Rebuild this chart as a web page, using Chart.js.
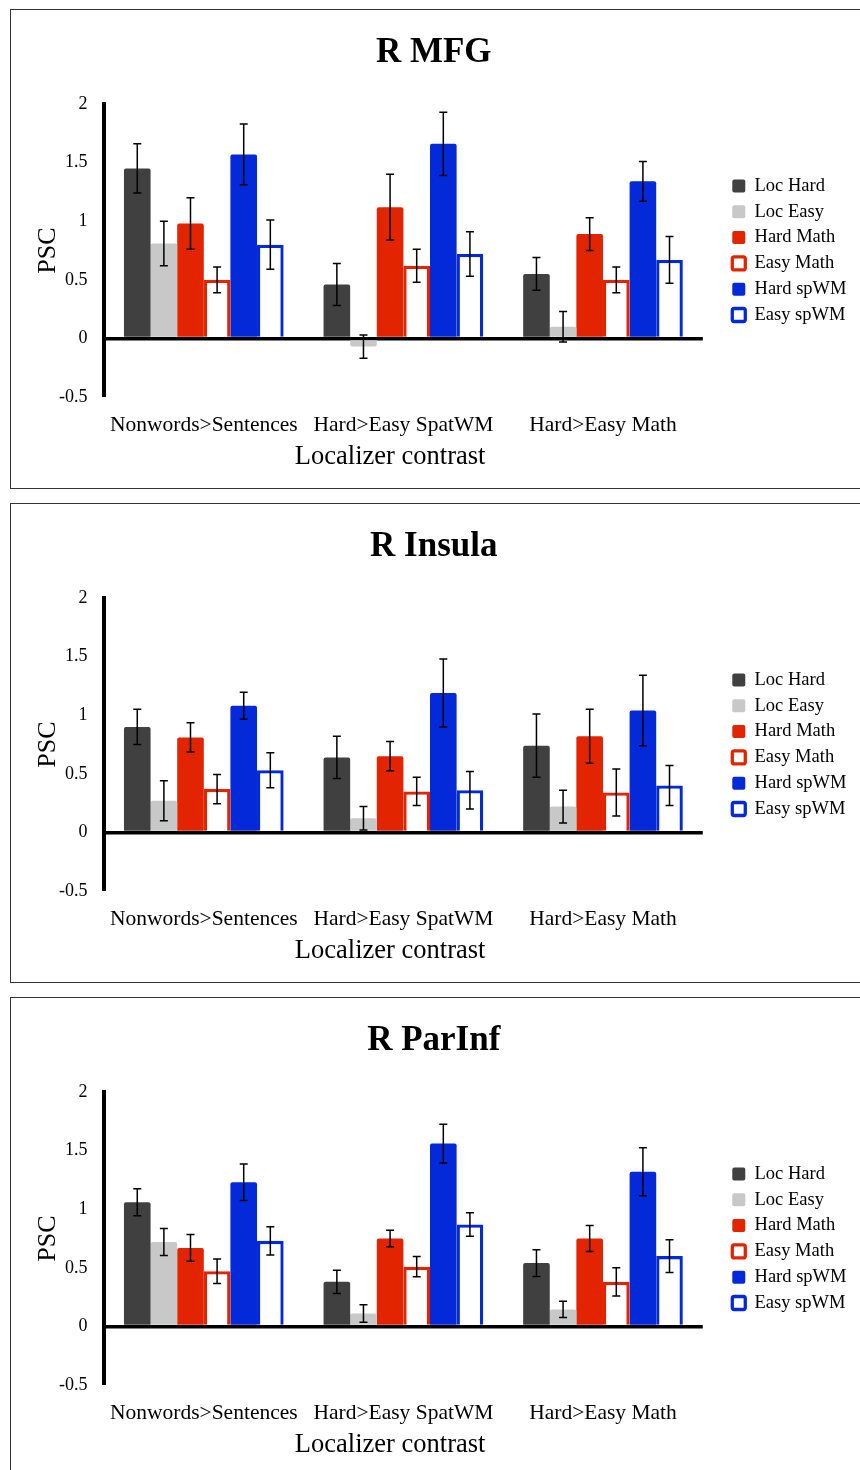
<!DOCTYPE html>
<html lang="en">
<head>
    <meta charset="UTF-8">
    <title>PSC by localizer contrast</title>
    <script src="https://cdn.jsdelivr.net/npm/chart.js"></script>
    <style>
        body {
            margin: 0;
            padding: 0;
            background: #fff;
            overflow: hidden;
            width: 860px;
            height: 1470px;
            position: relative;
        }
        .panel {
            position: absolute;
            left: 10px;
            width: 850px;
            height: 478px;
            border: 1px solid #333;
        }
    </style>
</head>
<body>

<div class="panel" style="top: 9px;"><canvas id="mfgChart" width="850" height="478"></canvas></div>
<div class="panel" style="top: 503px;"><canvas id="insulaChart" width="850" height="478"></canvas></div>
<div class="panel" style="top: 997px;"><canvas id="parinfChart" width="850" height="478"></canvas></div>

<script>
    const categories = ['Nonwords>Sentences', 'Hard>Easy SpatWM', 'Hard>Easy Math'];
    const seriesNames = ['Loc Hard', 'Loc Easy', 'Hard Math', 'Easy Math', 'Hard spWM', 'Easy spWM'];
    const yTicks = [-0.5, 0, 0.5, 1, 1.5, 2];

    // rows follow seriesNames, columns follow categories
    const mfgMeans = [
        [1.45, 0.46, 0.55],
        [0.81, -0.07, 0.10],
        [0.98, 1.12, 0.89],
        [0.50, 0.62, 0.50],
        [1.57, 1.66, 1.34],
        [0.80, 0.72, 0.67]
    ];
    const mfgErrors = [
        [0.21, 0.18, 0.14],
        [0.19, 0.10, 0.13],
        [0.22, 0.28, 0.14],
        [0.11, 0.14, 0.11],
        [0.26, 0.27, 0.17],
        [0.21, 0.19, 0.20]
    ];

    const insulaMeans = [
        [0.90, 0.64, 0.74],
        [0.27, 0.12, 0.22],
        [0.81, 0.65, 0.82],
        [0.37, 0.35, 0.34],
        [1.08, 1.19, 1.04],
        [0.53, 0.36, 0.40]
    ];
    const insulaErrors = [
        [0.15, 0.18, 0.27],
        [0.17, 0.10, 0.14],
        [0.125, 0.125, 0.23],
        [0.125, 0.12, 0.20],
        [0.115, 0.29, 0.30],
        [0.15, 0.16, 0.17]
    ];

    const parinfMeans = [
        [1.06, 0.38, 0.54],
        [0.72, 0.11, 0.145],
        [0.67, 0.75, 0.75],
        [0.47, 0.51, 0.38],
        [1.23, 1.56, 1.32],
        [0.73, 0.87, 0.60]
    ];
    const parinfErrors = [
        [0.115, 0.10, 0.115],
        [0.115, 0.075, 0.07],
        [0.115, 0.07, 0.11],
        [0.105, 0.087, 0.12],
        [0.155, 0.165, 0.205],
        [0.12, 0.10, 0.14]
    ];

    const fillColors = ['#404040', '#c8c8c8', '#e22400', '#ffffff', '#0429d8', '#ffffff'];
    const edgeColors = ['#404040', '#c8c8c8', '#e22400', '#e22400', '#0429d8', '#0429d8'];
    const edgeWidths = [0, 0, 0, 3.3, 0, 3.3];

    Chart.defaults.font.family = '"Liberation Serif", "Times New Roman", serif';
    Chart.defaults.color = '#000';

    // simple error bars drawn on top of the bars
    const errorBars = {
        id: 'errorBars',
        afterDatasetsDraw(chart) {
            const ctx = chart.ctx;
            const y = chart.scales.y;
            ctx.save();
            ctx.strokeStyle = '#000';
            ctx.lineWidth = 1.5;
            chart.data.datasets.forEach((ds, di) => {
                const meta = chart.getDatasetMeta(di);
                meta.data.forEach((bar, i) => {
                    const top = y.getPixelForValue(ds.data[i] + ds.errors[i]);
                    const bot = y.getPixelForValue(ds.data[i] - ds.errors[i]);
                    ctx.beginPath();
                    ctx.moveTo(bar.x, top);
                    ctx.lineTo(bar.x, bot);
                    ctx.moveTo(bar.x - 4, top);
                    ctx.lineTo(bar.x + 4, top);
                    ctx.moveTo(bar.x - 4, bot);
                    ctx.lineTo(bar.x + 4, bot);
                    ctx.stroke();
                });
            });
            ctx.restore();
        }
    };

    function createChart(id, title, means, errors) {
        const datasets = seriesNames.map((name, s) => ({
            label: name,
            data: means[s],
            errors: errors[s],
            backgroundColor: fillColors[s],
            borderColor: edgeColors[s],
            borderWidth: edgeWidths[s],
            borderRadius: edgeWidths[s] ? 0 : 2,
            categoryPercentage: 0.8,
            barPercentage: 1.0
        }));

        new Chart(document.getElementById(id), {
            type: 'bar',
            data: { labels: categories, datasets: datasets },
            plugins: [errorBars],
            options: {
                responsive: false,
                animation: false,
                layout: {
                    padding: { left: 0, right: 4.5, top: 0, bottom: 15.4 }
                },
                plugins: {
                    title: {
                        display: true,
                        text: title,
                        font: { size: 35, weight: 'bold' },
                        color: '#000',
                        padding: { top: 22, bottom: 30 }
                    },
                    legend: {
                        position: 'right',
                        fullSize: false,
                        labels: {
                            boxWidth: 13,
                            boxHeight: 13,
                            padding: 7.3,
                            font: { size: 18.5 },
                            color: '#000',
                            useBorderRadius: true,
                            borderRadius: 2
                        }
                    },
                    tooltip: { enabled: false }
                },
                scales: {
                    x: {
                        grid: { display: false, drawTicks: false },
                        border: { display: false },
                        ticks: {
                            font: { size: 21.5 },
                            color: '#000',
                            padding: 15.1,
                            maxRotation: 0,
                            autoSkip: false
                        },
                        title: {
                            display: true,
                            text: 'Localizer contrast\u00a0\u00a0\u00a0\u00a0',
                            font: { size: 26.5 },
                            color: '#000',
                            padding: { top: 0, bottom: 0 }
                        },
                        afterFit: s => { s.height = 75.6; }
                    },
                    y: {
                        min: yTicks[0],
                        max: yTicks[yTicks.length - 1],
                        z: 1,
                        border: { display: true, color: '#000', width: 4 },
                        grid: {
                            drawTicks: false,
                            color: c => c.tick && c.tick.value === 0 ? '#000' : 'rgba(0,0,0,0)',
                            lineWidth: c => c.tick && c.tick.value === 0 ? 3.5 : 0
                        },
                        ticks: {
                            stepSize: yTicks[1] - yTicks[0],
                            font: { size: 18 },
                            color: '#000',
                            padding: 16.5,
                            callback: v => String(v)
                        },
                        title: {
                            display: true,
                            text: 'PSC',
                            font: { size: 26 },
                            color: '#000',
                            padding: { top: 21.4, bottom: 0 }
                        },
                        afterFit: s => { s.width = 93; }
                    },
                    // empty axis that only keeps the legend away from the plot
                    gap: {
                        position: 'right',
                        display: true,
                        grid: { display: false },
                        border: { display: false },
                        ticks: { display: false },
                        afterFit: s => { s.width = 22.2; }
                    }
                }
            }
        });
    }

    createChart('mfgChart', 'R MFG', mfgMeans, mfgErrors);
    createChart('insulaChart', 'R Insula', insulaMeans, insulaErrors);
    createChart('parinfChart', 'R ParInf', parinfMeans, parinfErrors);
</script>
</body>
</html>
